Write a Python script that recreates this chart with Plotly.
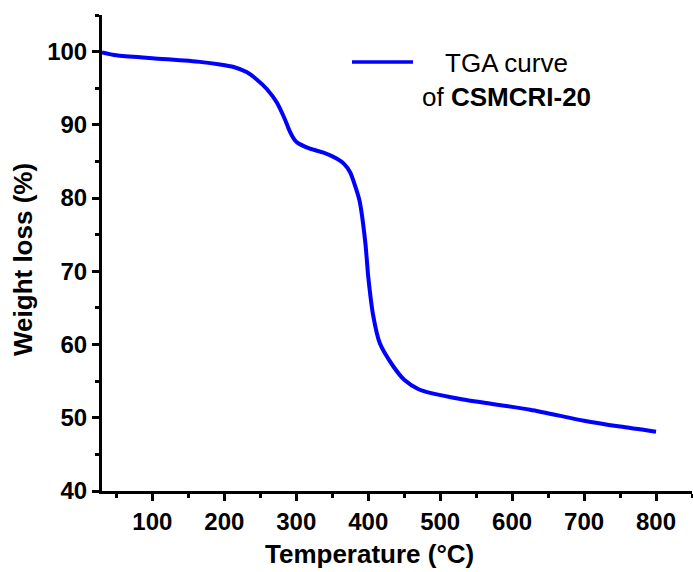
import plotly.graph_objects as go

temperature = [30, 50, 100, 166, 194, 213, 231, 245, 259, 273, 284, 291, 296, 301, 319, 338,
               356, 366, 375, 382, 388, 396, 400, 407, 416, 435, 450, 470, 486, 532, 625, 700, 750, 800]
weight = [99.9, 99.5, 99.1, 98.6, 98.25, 97.9, 97.2, 96.2, 94.9, 93.05, 90.8, 89.1, 88.2, 87.6, 86.75, 86.2,
          85.4, 84.7, 83.5, 81.6, 79.6, 73.9, 69.3, 63.9, 60.2, 57.0, 55.2, 53.9, 53.4, 52.5, 51.1, 49.6, 48.8, 48.1]

x_ticks = [100, 200, 300, 400, 500, 600, 700, 800]
y_ticks = [40, 50, 60, 70, 80, 90, 100]

FONT = "Liberation Sans, Arial, sans-serif"

fig = go.Figure()
fig.add_trace(go.Scatter(x=temperature, y=weight, mode="lines",
                         line=dict(color="#0000FF", width=4, shape="spline", smoothing=0.7),
                         name="TGA curve of CSMCRI-20", showlegend=False))

axis_common = dict(showline=True, linecolor="black", linewidth=3, ticks="outside",
                   ticklen=7, tickwidth=2.5, tickcolor="black", showgrid=False, zeroline=False,
                   tickfont=dict(family=FONT, size=24, color="black", weight="bold"),
                   minor=dict(ticks="outside", ticklen=4, tickwidth=2.5, tickcolor="black"))

fig.update_xaxes(range=[30, 850], tickvals=x_ticks, minor_dtick=50, minor_tick0=0, **axis_common)
fig.update_yaxes(range=[40, 105], tickvals=y_ticks, minor_dtick=5, minor_tick0=0, **axis_common)

# axis titles (placed as in the reference, slightly off-centre)
fig.add_annotation(xref="paper", yref="paper", x=(369 - 102) / 590, y=(491 - 554) / 476,
                   text="<b>Temperature (°C)</b>", showarrow=False, xanchor="center", yanchor="middle",
                   font=dict(family=FONT, size=26, color="black"))
fig.add_annotation(xref="paper", yref="paper", x=(23 - 102) / 590, y=(491 - 260) / 476,
                   text="<b>Weight loss (%)</b>", showarrow=False, textangle=-90,
                   xanchor="center", yanchor="middle",
                   font=dict(family=FONT, size=26, color="black"))

# legend sample
fig.add_shape(type="line", xref="paper", yref="paper", x0=(352 - 102) / 590, x1=(413 - 102) / 590,
              y0=(491 - 62) / 476, y1=(491 - 62) / 476, line=dict(color="#0000FF", width=3.5))
fig.add_annotation(xref="paper", yref="paper", x=(506 - 102) / 590, y=(491 - 80) / 476,
                   text="TGA curve<br>of <b>CSMCRI-20</b>", showarrow=False, align="center",
                   xanchor="center", yanchor="middle",
                   font=dict(family=FONT, size=26, color="black"))

fig.update_layout(width=693, height=572, margin=dict(l=102, r=1, t=15, b=81),
                  plot_bgcolor="white", paper_bgcolor="white")

fig.write_html("out.html")
